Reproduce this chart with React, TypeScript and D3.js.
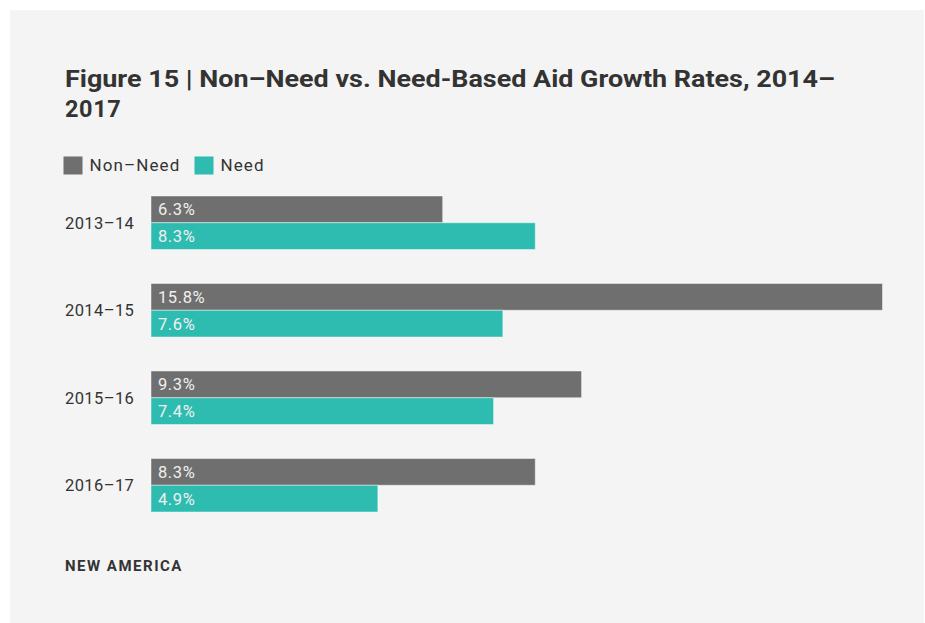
import React from "react";
import * as d3 from "d3";

const categories = ["2013–14", "2014–15", "2015–16", "2016–17"];
const seriesNames = ["Non–Need", "Need"];
const nonNeed = [6.3, 15.8, 9.3, 8.3];
const need = [8.3, 7.6, 7.4, 4.9];
const colors = ["#6f6f6f", "#2ebcb1"];

const W = 925;
const H = 623;

export default function App() {
  const x = d3.scaleLinear().domain([0, d3.max(nonNeed.concat(need)) as number]).range([151, 882.5]);
  const y = d3
    .scaleBand<string>()
    .domain(categories)
    .range([179, 529])
    .paddingInner(0.3886)
    .paddingOuter(0.1943);
  const sub = d3.scaleBand<string>().domain(seriesNames).range([0, y.bandwidth()]).padding(0);
  const series = [nonNeed, need];
  const font = "Roboto, 'Noto Sans', sans-serif";

  return (
    <svg
      width={W}
      height={H}
      style={{ position: "absolute", left: 0, top: 0, display: "block" }}
      fontFamily={font}
    >
      <rect x={0} y={0} width={W} height={H} fill="#ffffff" />
      <rect x={10} y={10} width={914} height={613} fill="#f4f4f4" />
      <text x={65} y={87} fontSize={23.5} fontWeight={700} fill="#333" textLength={770} lengthAdjust="spacingAndGlyphs">
        Figure 15 | Non–Need vs. Need-Based Aid Growth Rates, 2014–
      </text>
      <text x={65} y={117} fontSize={23.5} fontWeight={700} fill="#333" letterSpacing={0.6}>
        2017
      </text>
      {seriesNames.map((s, i) => {
        const lx = [63.5, 194.5][i];
        return (
          <g key={s}>
            <rect x={lx} y={156.5} width={19} height={18} fill={colors[i]} />
            <text x={lx + 26} y={171} fontSize={17} fill="#333" letterSpacing={1.1}>
              {s}
            </text>
          </g>
        );
      })}
      {categories.map((c, ci) => (
        <g key={c}>
          <text x={65} y={(y(c) as number) + y.bandwidth() / 2 + 6} fontSize={16.5} fill="#333" letterSpacing={0.4}>
            {c}
          </text>
          {series.map((vals, si) => {
            const by = (y(c) as number) + (sub(seriesNames[si]) as number);
            return (
              <g key={si}>
                <rect
                  x={x(0)}
                  y={by}
                  width={x(vals[ci]) - x(0)}
                  height={sub.bandwidth()}
                  fill={colors[si]}
                  stroke="rgba(255,255,255,0.45)"
                  strokeWidth={1}
                />
                <text x={x(0) + 7} y={by + sub.bandwidth() / 2 + 6} fontSize={16.5} fill="#f0f0f0" letterSpacing={0.6}>
                  {vals[ci].toFixed(1) + "%"}
                </text>
              </g>
            );
          })}
        </g>
      ))}
      <text x={65} y={571} fontSize={15} fontWeight={700} fill="#333" letterSpacing={1.5}>
        NEW AMERICA
      </text>
    </svg>
  );
}
